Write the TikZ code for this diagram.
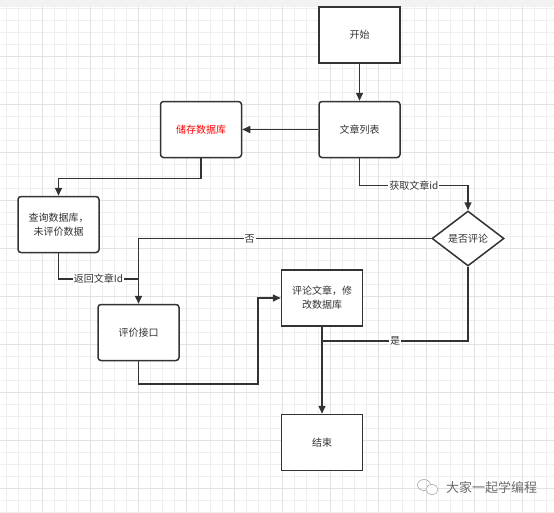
\documentclass[tikz,border=0pt]{standalone}
\usepackage{fontspec}
\setmainfont{Noto Sans CJK SC}
\usetikzlibrary{shapes.geometric,arrows.meta}
\definecolor{inkgray}{HTML}{333333}
\definecolor{gridminor}{HTML}{EEEEEE}
\definecolor{gridmajor}{HTML}{E2E2E2}
\definecolor{bandgray}{HTML}{F2F2F2}
\begin{document}
\begin{tikzpicture}[x=1pt, y=-1pt,
    box/.style={rectangle, draw=inkgray, line width=1.5pt, fill=white, minimum width=81pt, minimum height=56pt, align=center, text=inkgray, font=\fontsize{10}{14}\selectfont},
    roundbox/.style={box, rounded corners=3pt},
    decision/.style={diamond, draw=inkgray, line width=1.5pt, fill=white, minimum width=72pt, minimum height=55pt, aspect=1.3, inner sep=0pt, text=inkgray, font=\fontsize{10}{14}\selectfont},
    link/.style={draw=inkgray, line width=1.5pt},
    flow/.style={link, -{Triangle[length=8pt, width=7pt]}},
    tag/.style={fill=white, inner sep=1pt, text=inkgray, font=\fontsize{10}{12}\selectfont}]
    \useasboundingbox (0,0) rectangle (554,512);
    % background grid
    \fill[white] (0,0) rectangle (554,512);
    \foreach \k in {0,...,45} {
        \pgfmathsetmacro{\gx}{6.7+12*\k}
        \draw[gridminor, line width=0.8pt] (\gx,0) -- (\gx,512);
    }
    \foreach \k in {0,...,42} {
        \pgfmathsetmacro{\gy}{8.7+12*\k}
        \draw[gridminor, line width=0.8pt] (0,\gy) -- (554,\gy);
    }
    \foreach \k in {0,...,11} {
        \pgfmathsetmacro{\gx}{42.7+48*\k}
        \draw[gridmajor, line width=0.8pt] (\gx,0) -- (\gx,512);
    }
    \foreach \k in {0,...,10} {
        \pgfmathsetmacro{\gy}{56.7+48*\k}
        \draw[gridmajor, line width=0.8pt] (0,\gy) -- (554,\gy);
    }
    \fill[bandgray] (0,0) rectangle (554,7);

    % nodes
    \node[box] (start) at (359.5,35) {开始};
    \node[roundbox] (list) at (359.5,129.5) {文章列表};
    \node[roundbox, text=red] (store) at (201,129.5) {储存数据库};
    \node[roundbox] (query) at (58.5,224.5) {查询数据库，\\ 未评价数据};
    \node[decision] (ask) at (468,238.5) {是否评论};
    \node[roundbox] (rate) at (138.5,332.5) {评价接口};
    \node[box] (edit) at (322,298) {评论文章，修\\改数据库};
    \node[box] (stop) at (322,442.5) {结束};
    \coordinate (join) at (138.5,279);
    \coordinate (merge) at (322,341);
    \coordinate (bend) at (258,384);

    % connectors
    \draw[flow] (start) -- (list);
    \draw[flow] (list) -- (store);
    \draw[flow] (store.south) -- ++(0,20) -| (query.north);
    \draw[flow] (list.south) -- ++(0,27) -| node[tag, pos=0.25] {获取文章id} (ask.north);
    \draw[link] (query.south) |- node[tag, pos=0.75] {返回文章Id} (join);
    \draw[link] (ask.west) -| node[tag, pos=0.31] {否} (join);
    \draw[flow] (join) -- (rate.north);
    \draw[flow] (rate.south) |- (bend) |- (edit.west);
    \draw[link] (ask.south) |- node[tag, pos=0.75] {是} (merge);
    \draw[flow] (edit.south) -- (stop.north);

    % watermark
    \draw[gray!70, line width=0.6pt] (424,485) ellipse (6.5pt and 5.5pt);
    \draw[gray!70, line width=0.6pt, fill=white] (432,489.5) ellipse (6pt and 5pt);
    \node[text=gray!85!black, font=\fontsize{13}{15}\selectfont] (mark) at (491.5,488) {大家一起学编程};
\end{tikzpicture}
\end{document}
